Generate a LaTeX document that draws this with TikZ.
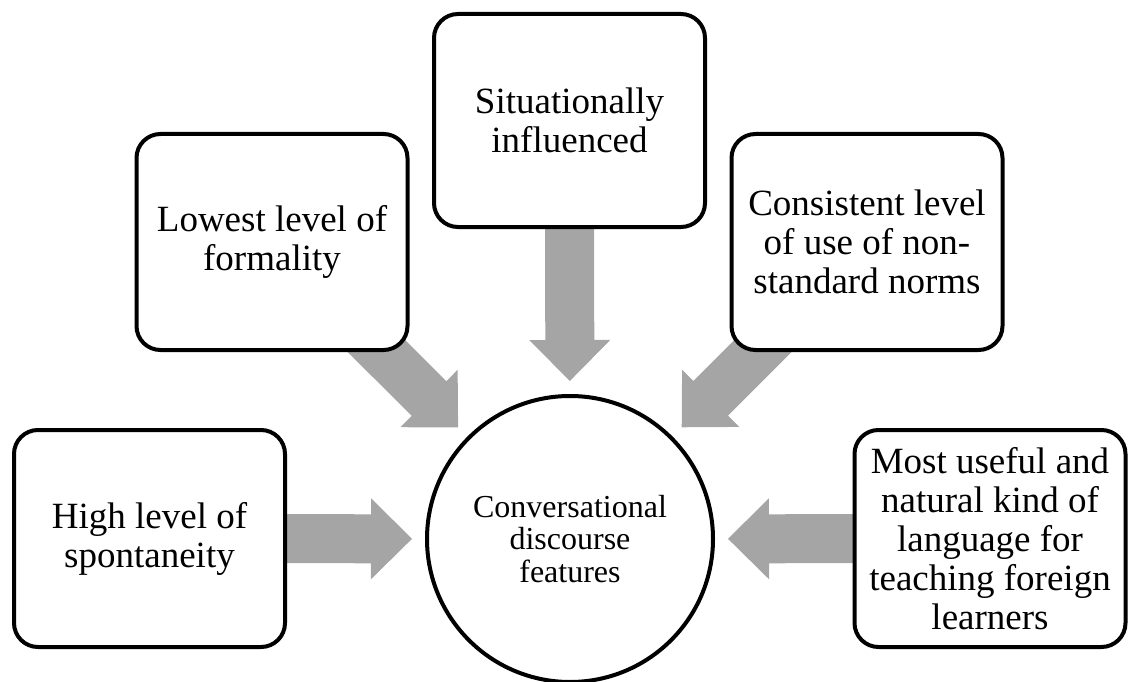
\documentclass[tikz,border=0pt]{standalone}
\usepackage{fontspec}
\setmainfont{Liberation Serif}
\usetikzlibrary{calc,backgrounds}
\definecolor{arrowgray}{HTML}{A5A5A5}
\tikzset{
  featurebox/.style={draw=black, line width=4pt, fill=white, rounded corners=24pt,
    minimum width=271pt, minimum height=216pt, inner sep=0pt, align=center,
    font=\fontsize{37}{39}\selectfont},
  hub/.style={draw=black, line width=4pt, fill=white, circle, minimum size=286pt,
    inner sep=0pt, align=center, font=\fontsize{32}{32.5}\selectfont},
  arrowbody/.style={fill=arrowgray}
}
% block arrow from #1 (tail) to #2 (tip)
\newcommand\blockarrow[2]{%
  \coordinate (#2-base) at ($(#2)!41pt!(#1)$);
  \fill[arrowbody] ($(#1)!24.5pt!90:(#2)$) -- ($(#2-base)!24.5pt!90:(#2)$)
    -- ($(#2-base)!40.5pt!90:(#2)$) -- (#2) -- ($(#2-base)!40.5pt!-90:(#2)$)
    -- ($(#2-base)!24.5pt!-90:(#2)$) -- ($(#1)!24.5pt!-90:(#2)$) -- cycle;
}
\begin{document}
\begin{tikzpicture}[x=1pt,y=-1pt]
\useasboundingbox (0,0) rectangle (1130,682);

\node[hub] (hub) at (570,539) {Conversational\\discourse\\features};

\node[featurebox, minimum height=217pt] (b1) at (149.5,538.5) {High level of\\spontaneity};
\node[featurebox] (b2) at (272,242) {Lowest level of\\formality};
\node[featurebox, minimum height=213pt] (b3) at (569.5,120.5) {Situationally\\influenced};
\node[featurebox] (b4) at (867,242) {Consistent level\\of use of non-\\standard norms};
\node[featurebox, minimum height=217pt] (b5) at (990,538.5) {Most useful and\\natural kind of\\language for\\teaching foreign\\learners};

\foreach \i in {1,...,5}{
  \coordinate (t\i) at ($(hub.center)!158pt!(b\i.center)$);
}

\begin{scope}[on background layer]
  \blockarrow{b1.center}{t1}
  \blockarrow{b2.center}{t2}
  \blockarrow{b3.center}{t3}
  \blockarrow{b4.center}{t4}
  \blockarrow{b5.center}{t5}
\end{scope}
\end{tikzpicture}
\end{document}
